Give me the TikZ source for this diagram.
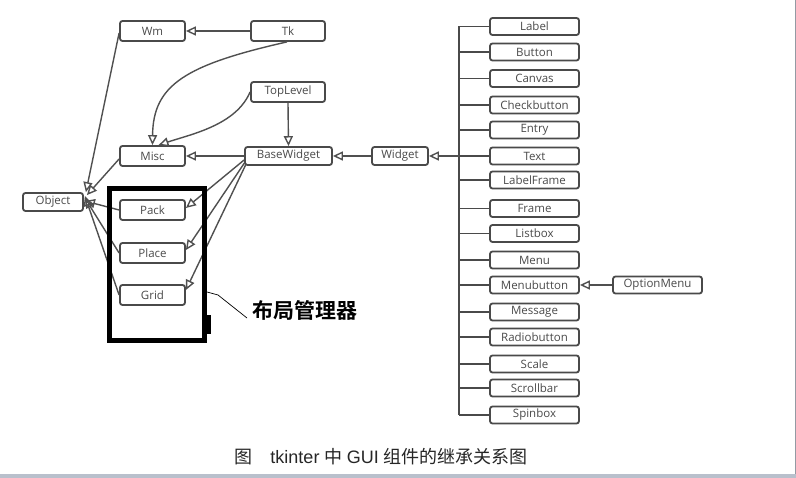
\documentclass[tikz,border=0pt]{standalone}
\usepackage{fontspec}
\setmainfont{Open Sans}
\newfontfamily\cjk{Noto Sans CJK SC}
\newfontfamily\cjkb[BoldFont={Noto Sans CJK SC Bold}]{Noto Sans CJK SC}
\newfontfamily\capfont{Liberation Sans}
\usetikzlibrary{arrows.meta}
\definecolor{edge}{HTML}{505050}
\definecolor{boxc}{HTML}{4A4A4A}
\definecolor{band}{HTML}{B9C0CC}
\tikzset{
  x=1pt, y=-1pt,
  cls/.style={draw=boxc, line width=1.8pt, rounded corners=2.5pt, inner sep=0pt,
    text=boxc, font=\fontsize{11.5}{12}\selectfont, anchor=center},
  lbox/.style={cls, minimum width=65pt, minimum height=20pt},
  rbox/.style={cls, minimum width=89pt, minimum height=17pt},
  inh/.style={draw=edge, line width=1.4pt, -{Triangle[open, length=10pt, width=9pt, line width=1.4pt]}},
  branch/.style={draw=boxc, line width=1.8pt},
}
\begin{document}
\begin{tikzpicture}
\useasboundingbox (0,0) rectangle (796,478);
\fill[white] (0,0) rectangle (796,478);
\fill[band] (0,474) rectangle (796,478);
\draw[band!80!black, line width=0.8pt] (795,0) -- (795,474);

% left part
\node[lbox] (Wm) at (152.5,31) {Wm};
\node[cls, minimum width=74pt, minimum height=20pt] (Tk) at (288,31) {Tk};
\node[cls, minimum width=74pt, minimum height=20pt] (TopLevel) at (288,92) {TopLevel};
\node[lbox] (Misc) at (152.5,156) {Misc};
\node[cls, minimum width=87pt, minimum height=18pt] (BaseWidget) at (288.5,156) {BaseWidget};
\node[cls, minimum width=56pt, minimum height=18pt] (Widget) at (400,156) {Widget};
\node[cls, minimum width=60pt, minimum height=18pt] (Object) at (53,202) {Object};
\node[lbox] (Pack) at (152.5,210) {Pack};
\node[lbox] (Place) at (152.5,253) {Place};
\node[lbox] (Grid) at (152.5,295) {Grid};

% right column
\node[rbox] (Label) at (534.5,26.5) {Label};
\node[rbox] (Button) at (534.5,52) {Button};
\node[rbox] (Canvas) at (534.5,78.5) {Canvas};
\node[rbox] (Checkbutton) at (534.5,105) {Checkbutton};
\node[rbox] (Entry) at (534.5,130) {Entry};
\node[rbox] (Text) at (534.5,156) {Text};
\node[rbox] (LabelFrame) at (534.5,180) {LabelFrame};
\node[rbox] (Frame) at (534.5,208.5) {Frame};
\node[rbox] (Listbox) at (534.5,233.5) {Listbox};
\node[rbox] (Menu) at (534.5,260) {Menu};
\node[rbox] (Menubutton) at (534.5,285) {Menubutton};
\node[rbox] (Message) at (534.5,312) {Message};
\node[rbox] (Radiobutton) at (534.5,337) {Radiobutton};
\node[rbox] (Scale) at (534.5,364) {Scale};
\node[rbox] (Scrollbar) at (534.5,388) {Scrollbar};
\node[rbox] (Spinbox) at (534.5,415) {Spinbox};
\node[rbox] (OptionMenu) at (657.5,285) {OptionMenu};

% bar
\coordinate (btop) at (459,26.5);
\coordinate (bbot) at (459,415);
\draw[branch, line width=2.4pt] (btop) -- (bbot);
\foreach \n in {Label,Button,Canvas,Checkbutton,Entry,Text,LabelFrame,Frame,Listbox,Menu,Menubutton,Message,Radiobutton,Scale,Scrollbar,Spinbox}
  \draw[branch] (\n.west) -- (\n.west -| btop);
\draw[inh, line width=2.2pt] (btop |- Widget.east) -- (Widget.east);
\draw[inh] (OptionMenu.west) -- (Menubutton.east);

% inheritance
\draw[inh] (Tk.west) -- (Wm.east);
\draw[inh] (Widget.west) -- (BaseWidget.east);
\draw[inh] (BaseWidget.west) -- (Misc.east);
\draw[inh] (TopLevel.south) -- (BaseWidget.north);
\draw[inh] ([xshift=-1pt]Tk.south) .. controls (185,65) and (153,85) .. (Misc.north);
\draw[inh] (TopLevel.west) .. controls (236,125) and (192,134) .. ([xshift=6pt]Misc.north);
\draw[inh] ([yshift=-2pt]Wm.west) -- ([xshift=2pt,yshift=0pt]Object.north east);
\draw[inh] ([yshift=-3pt]Misc.west) -- ([xshift=3pt,yshift=-3pt]Object.north east);
\draw[inh] (Pack.west) -- ([xshift=1pt,yshift=1pt]Object.east);
\draw[inh] (Place.west) -- ([xshift=1pt,yshift=4pt]Object.east);
\draw[inh] (Grid.west) -- ([xshift=1pt,yshift=6pt]Object.east);
\draw[inh] ([yshift=-4pt]BaseWidget.west) -- ([yshift=2pt]Pack.east);
\draw[inh] ([yshift=-6pt,xshift=1pt]BaseWidget.west) -- ([yshift=3pt]Place.east);
\draw[inh] ([yshift=-8pt,xshift=2pt]BaseWidget.west) -- ([yshift=5pt]Grid.east);

% layout manager highlight
\draw[black, line width=5pt] (109.5,188.5) rectangle (204.5,340.5);
\fill[black] (204,315) rectangle (211,334);
\node[font=\cjkb\bfseries\fontsize{21}{22}\selectfont, anchor=west, inner sep=0pt] (lm) at (252,310) {布局管理器};
\coordinate (lmA) at (207,292);
\draw[black, line width=0.7pt] (lmA) -- (218,295) -- ([xshift=-5pt,yshift=-8pt]lm.west);

% caption
\node[font=\fontsize{18}{19}\selectfont, text=black!85, inner sep=0pt] (cap) at (381,457)
  {{\cjk 图}\hspace{18pt}{\capfont tkinter} {\cjk 中} {\capfont GUI} {\cjk 组件的继承关系图}};
\end{tikzpicture}
\end{document}
